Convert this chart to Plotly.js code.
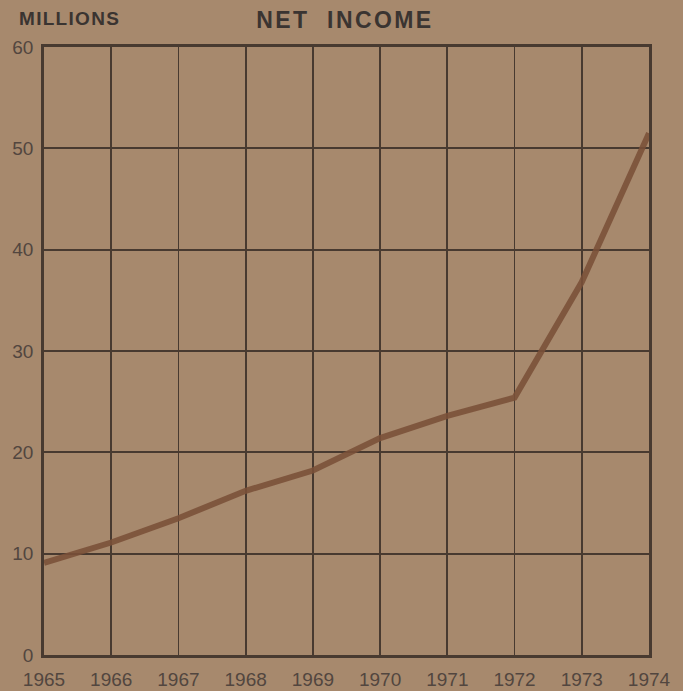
<!DOCTYPE html>
<html>
<head>
<meta charset="utf-8">
<script src="https://cdn.plot.ly/plotly-3.0.1.min.js"></script>
<style>html,body{margin:0;padding:0;background:#a7896d;}#chart{width:683px;height:691px;}</style>
</head>
<body>
<div id="chart"></div>
<script>
const years = [1965, 1966, 1967, 1968, 1969, 1970, 1971, 1972, 1973, 1974];
const netIncome = [9.1, 11.1, 13.5, 16.2, 18.2, 21.4, 23.6, 25.4, 36.8, 51.5];
const yTicks = [0, 10, 20, 30, 40, 50, 60];

const bg = '#a7896d';
const gridCol = '#483a30';
const font = 'Liberation Sans, Arial, sans-serif';

Plotly.newPlot('chart', [{
  x: years,
  y: netIncome,
  type: 'scatter',
  mode: 'lines',
  line: {color: '#7a5038', width: 6},
  opacity: 0.88,
  hoverinfo: 'skip'
}], {
  width: 683,
  height: 691,
  paper_bgcolor: bg,
  plot_bgcolor: bg,
  margin: {l: 44, r: 34, t: 47, b: 36},
  showlegend: false,
  title: {
    text: '<b><span style="letter-spacing:2.4px">NET  INCOME</span></b>',
    font: {family: font, size: 23, color: '#3a3431'},
    x: 0.505, xanchor: 'center', y: 0.971, yanchor: 'middle'
  },
  xaxis: {
    range: [1965, 1974],
    tickvals: years,
    ticktext: years.map(String),
    showgrid: true, gridcolor: gridCol, gridwidth: 1.8,
    showline: true, linecolor: gridCol, linewidth: 2.8, mirror: true,
    zeroline: false, ticks: '',
    tickfont: {family: font, size: 19, color: '#52463f'},
    ticklabelstandoff: 5
  },
  yaxis: {
    range: [0, 60],
    tickvals: yTicks,
    showgrid: true, gridcolor: gridCol, gridwidth: 1.8,
    showline: true, linecolor: gridCol, linewidth: 2.8, mirror: true,
    zeroline: false, ticks: '',
    tickfont: {family: font, size: 19, color: '#52463f'},
    ticklabelstandoff: 4
  },
  annotations: [{
    text: '<b><span style="letter-spacing:1.3px">MILLIONS</span></b>',
    xref: 'paper', yref: 'paper',
    x: -0.045, y: 1.0, xanchor: 'left', yanchor: 'bottom', yshift: 16,
    showarrow: false,
    font: {family: font, size: 19, color: '#3a3431'}
  }]
}, {displayModeBar: false, staticPlot: true});
</script>
</body>
</html>
